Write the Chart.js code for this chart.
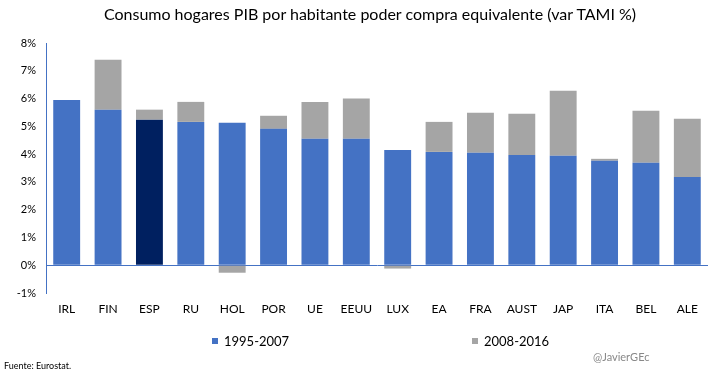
<!DOCTYPE html>
<html>
<head>
<meta charset="utf-8">
<script src="https://cdn.jsdelivr.net/npm/chart.js@4"></script>
<style>
  html, body { margin: 0; padding: 0; background: #fff; }
  #wrap { position: relative; width: 728px; height: 377px; font-family: Lato, "Noto Sans", sans-serif; }
  #title { position: absolute; left: 0; width: 740px; top: 4px; text-align: center; font-size: 16px; color: #000; }
  .leg { position: absolute; top: 333px; font-size: 13px; color: #000; }
  .leg i { display: inline-block; width: 6px; height: 6px; margin-right: 6px; vertical-align: 2px; }
  #src { position: absolute; left: 4px; top: 360px; font-size: 9px; color: #000; }
  #sig { position: absolute; left: 593px; top: 350px; font-size: 11px; color: #888; }
</style>
</head>
<body>
<div id="wrap">
  <canvas id="chart" width="728" height="377"></canvas>
  <div id="title">Consumo hogares PIB por habitante poder compra equivalente (var TAMI %)</div>
  <div class="leg" style="left:212px"><i style="background:#4472C4"></i>1995-2007</div>
  <div class="leg" style="left:472px"><i style="background:#A5A5A5"></i>2008-2016</div>
  <div id="src">Fuente: Eurostat.</div>
  <div id="sig">@JavierGEc</div>
</div>
<script>
const labels = ['IRL', 'FIN', 'ESP', 'RU', 'HOL', 'POR', 'UE', 'EEUU', 'LUX', 'EA', 'FRA', 'AUST', 'JAP', 'ITA', 'BEL', 'ALE'];
const p1995 = [5.95, 5.6, 5.24, 5.16, 5.13, 4.91, 4.55, 4.55, 4.15, 4.08, 4.05, 3.97, 3.94, 3.76, 3.69, 3.18];
const p2008 = [0, 1.8, 0.36, 0.72, -0.27, 0.47, 1.33, 1.45, -0.12, 1.08, 1.44, 1.48, 2.34, 0.07, 1.87, 2.09];

const blue = '#4472C4';
const colors1 = labels.map(l => l === 'ESP' ? '#002060' : blue);

const ctx = document.getElementById('chart').getContext('2d');
new Chart(ctx, {
    type: 'bar',
    data: {
        labels: labels,
        datasets: [
            {
                label: '1995-2007',
                data: p1995,
                backgroundColor: colors1,
                barPercentage: 0.65,
                categoryPercentage: 1
            },
            {
                label: '2008-2016',
                data: p2008,
                backgroundColor: '#A5A5A5',
                barPercentage: 0.65,
                categoryPercentage: 1
            }
        ]
    },
    options: {
        responsive: false,
        animation: false,
        layout: { padding: { top: 43, right: 20, left: 0, bottom: 0 } },
        plugins: {
            legend: { display: false },
            tooltip: { enabled: false }
        },
        scales: {
            x: {
                stacked: true,
                grid: { display: false, drawTicks: false },
                border: { display: false },
                ticks: { color: '#000', font: { family: 'Lato', size: 12 }, padding: 9 },
                afterFit: s => { s.height = 84; }
            },
            y: {
                stacked: true,
                min: -1,
                max: 8,
                grid: {
                    drawTicks: false,
                    color: c => c.tick && c.tick.value === 0 ? blue : 'transparent',
                    lineWidth: 1
                },
                border: { display: true, color: blue },
                ticks: {
                    stepSize: 1,
                    color: '#000',
                    padding: 10,
                    font: { family: 'Lato', size: 11 },
                    callback: v => v + '%'
                },
                afterFit: s => { s.width = 46; }
            }
        }
    }
});
</script>
</body>
</html>
